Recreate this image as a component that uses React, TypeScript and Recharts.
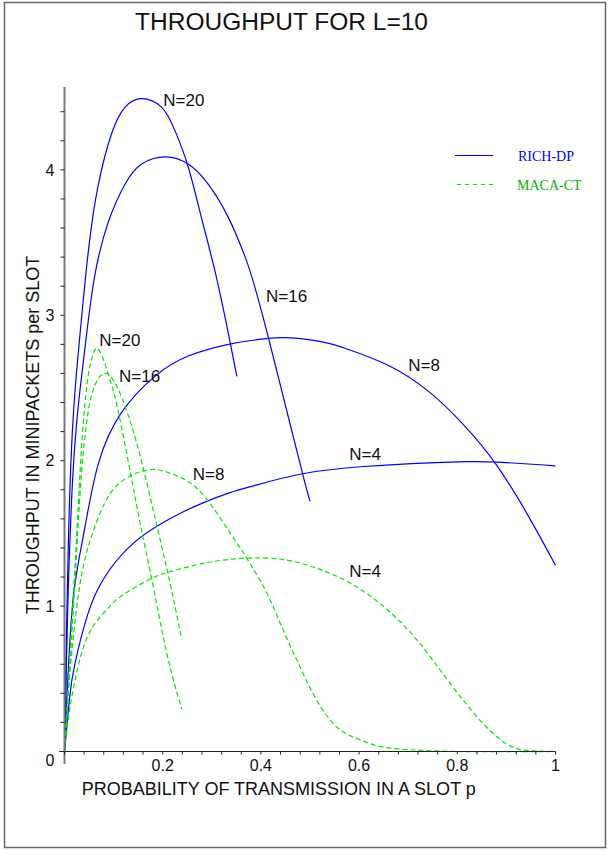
import { LineChart, Line, XAxis, YAxis, ReferenceDot, ReferenceLine, Legend } from 'recharts';

type Pt = [number, number];

// RICH-DP, solid blue: [p, throughput]
const richN20: Pt[] = [
  [0, 0], [0.003, 0.6], [0.006, 1.15], [0.01, 1.7], [0.016, 2.2], [0.023, 2.55], [0.0316, 2.87],
  [0.0485, 3.44], [0.069, 3.9], [0.096, 4.25], [0.123, 4.43], [0.157, 4.49], [0.198, 4.43],
  [0.225, 4.27], [0.252, 4.02], [0.279, 3.67], [0.306, 3.31], [0.334, 2.87], [0.351, 2.58],
];
const richN16: Pt[] = [
  [0, 0], [0.004, 0.62], [0.008, 1.15], [0.014, 1.7], [0.022, 2.15], [0.032, 2.5], [0.045, 2.87],
  [0.062, 3.28], [0.089, 3.64], [0.123, 3.9], [0.157, 4.04], [0.205, 4.09], [0.252, 4.04],
  [0.293, 3.9], [0.334, 3.67], [0.368, 3.4], [0.388, 3.19], [0.415, 2.85], [0.45, 2.38],
  [0.485, 1.91], [0.5, 1.72],
];
const richN8: Pt[] = [
  [0, 0], [0.005, 0.38], [0.01, 0.7], [0.02, 1.12], [0.042, 1.55], [0.069, 1.98], [0.116, 2.33],
  [0.184, 2.58], [0.252, 2.72], [0.334, 2.8], [0.388, 2.83], [0.446, 2.846], [0.52, 2.82],
  [0.574, 2.77], [0.663, 2.65], [0.744, 2.47], [0.812, 2.25], [0.88, 1.97], [0.948, 1.6], [1, 1.28],
];
const richN4: Pt[] = [
  [0, 0], [0.01, 0.36], [0.021, 0.6], [0.048, 0.95], [0.082, 1.2], [0.13, 1.4], [0.184, 1.54],
  [0.24, 1.645], [0.286, 1.715], [0.337, 1.78], [0.388, 1.83], [0.485, 1.91], [0.609, 1.96],
  [0.744, 1.985], [0.82, 1.993], [0.88, 1.99], [1, 1.965],
];

// MACA-CT, dashed green
const macaN20: Pt[] = [
  [0, 0], [0.006, 0.35], [0.012, 0.72], [0.018, 1.08], [0.025, 1.5], [0.0316, 1.92], [0.038, 2.25],
  [0.045, 2.5], [0.053, 2.67], [0.0635, 2.77], [0.072, 2.75], [0.082, 2.67], [0.096, 2.52],
  [0.11, 2.33], [0.137, 1.87], [0.157, 1.52], [0.178, 1.18], [0.198, 0.84], [0.218, 0.54], [0.239, 0.29],
];
const macaN16: Pt[] = [
  [0, 0], [0.008, 0.42], [0.018, 0.98], [0.026, 1.45], [0.035, 1.93], [0.045, 2.26], [0.055, 2.45],
  [0.07, 2.57], [0.086, 2.6], [0.1, 2.55], [0.116, 2.44], [0.143, 2.17], [0.171, 1.8], [0.198, 1.41],
  [0.218, 1.11], [0.239, 0.77],
];
const macaN8: Pt[] = [
  [0, 0], [0.008, 0.42], [0.016, 0.72], [0.028, 1.07], [0.04, 1.3], [0.055, 1.48], [0.082, 1.71],
  [0.11, 1.84], [0.137, 1.9], [0.16, 1.93], [0.184, 1.94], [0.21, 1.92], [0.245, 1.87], [0.286, 1.75],
  [0.334, 1.52], [0.371, 1.33], [0.412, 1.09], [0.446, 0.83], [0.48, 0.58], [0.514, 0.35],
  [0.554, 0.17], [0.595, 0.09], [0.649, 0.03], [0.717, 0.01], [0.8, 0], [1, 0],
];
const macaN4: Pt[] = [
  [0, 0], [0.006, 0.18], [0.0146, 0.37], [0.035, 0.68], [0.062, 0.88], [0.09, 0.99], [0.116, 1.07],
  [0.171, 1.18], [0.208, 1.23], [0.252, 1.27], [0.3, 1.305], [0.371, 1.33], [0.446, 1.32],
  [0.514, 1.26], [0.581, 1.16], [0.649, 1.0], [0.717, 0.77], [0.785, 0.47], [0.853, 0.19],
  [0.907, 0.04], [0.95, 0.005], [1, 0],
];
const macaTail: Pt[] = [[0.24, 0], [1, 0]];

// curve labels, anchored at the text's left baseline
const curveLabels = [
  { text: 'N=20', p: 0.2012, v: 4.441 },
  { text: 'N=16', p: 0.4104, v: 3.094 },
  { text: 'N=8', p: 0.7002, v: 2.619 },
  { text: 'N=4', p: 0.58, v: 2.005 },
  { text: 'N=20', p: 0.0709, v: 2.789 },
  { text: 'N=16', p: 0.111, v: 2.543 },
  { text: 'N=8', p: 0.2611, v: 1.867 },
  { text: 'N=4', p: 0.58, v: 1.198 },
];

const xTicks = Array.from({ length: 26 }, (_, i) => +(i * 0.04).toFixed(2));
const xLabelTicks = [0.2, 0.4, 0.6, 0.8, 1];
const yTicks = Array.from({ length: 23 }, (_, i) => +(i * 0.2).toFixed(1));
const yLabelTicks = [0, 1, 2, 3, 4];

const BLUE = '#0000ff';
const GREEN = '#00e600';
const SANS = '"Liberation Sans", Arial, sans-serif';
const SERIF = '"Liberation Serif", "Times New Roman", serif';

const series = [
  { key: 'rich20', pts: richN20, color: BLUE, dash: undefined },
  { key: 'rich16', pts: richN16, color: BLUE, dash: undefined },
  { key: 'rich8', pts: richN8, color: BLUE, dash: undefined },
  { key: 'rich4', pts: richN4, color: BLUE, dash: undefined },
  { key: 'maca20', pts: macaN20, color: GREEN, dash: '5 3' },
  { key: 'maca16', pts: macaN16, color: GREEN, dash: '5 3' },
  { key: 'maca8', pts: macaN8, color: GREEN, dash: '5 3' },
  { key: 'maca4', pts: macaN4, color: GREEN, dash: '5 3' },
  { key: 'macaTail', pts: macaTail, color: GREEN, dash: undefined },
];

function YTick({ x, y, payload }: any) {
  if (!yLabelTicks.includes(payload.value)) return <g />;
  const shift = payload.value === 0 ? 8.5 : 0;
  return (
    <text x={x} y={y + shift} dy="0.355em" textAnchor="end" fontSize={16} fontFamily={SANS} fill="#111">
      {payload.value}
    </text>
  );
}

function LegendBox() {
  return (
    <svg width={150} height={55}>
      <line x1={5} x2={43} y1={10.5} y2={10.5} stroke={BLUE} strokeWidth={1.2} />
      <text x={68} y={15.6} fontSize={14} fontFamily={SERIF} fill={BLUE}>RICH-DP</text>
      <line x1={7} x2={46} y1={39.5} y2={39.5} stroke={GREEN} strokeWidth={1.2} strokeDasharray="4 4" />
      <text x={67} y={44.6} fontSize={14} fontFamily={SERIF} fill="#00b000">MACA-CT</text>
    </svg>
  );
}

export default function App() {
  return (
    <div style={{ position: 'absolute', left: 0, top: 0, width: 611, height: 850, background: '#fff' }}>
      <LineChart width={611} height={850} margin={{ top: 87, right: 55.5, left: 24.5, bottom: 38.5 }}>
        <XAxis
          dataKey="p"
          type="number"
          domain={[0, 1]}
          ticks={xTicks}
          interval={0}
          height={60}
          tickSize={3}
          tickMargin={5.5}
          axisLine={{ stroke: '#222', strokeWidth: 1 }}
          tickLine={{ stroke: '#222' }}
          tick={{ fontSize: 16, fontFamily: SANS, fill: '#111' }}
          tickFormatter={(v: number) => (xLabelTicks.includes(v) ? String(v) : '')}
          label={{
            content: ({ viewBox }: any) => (
              <text x={viewBox.x + 17.2} y={viewBox.y + 43.5} fontSize={18} fontFamily={SANS} fill="#111">
                PROBABILITY OF TRANSMISSION IN A SLOT p
              </text>
            ),
          }}
        />
        <YAxis
          type="number"
          domain={[0, 4.57]}
          ticks={yTicks}
          interval={0}
          width={40}
          tickSize={4}
          tickMargin={6}
          axisLine={{ stroke: '#7a7a7a', strokeWidth: 2 }}
          tickLine={{ stroke: '#222' }}
          tick={<YTick />}
          label={{
            content: ({ viewBox }: any) => {
              const x = viewBox.x + viewBox.width - 25.5;
              const y = 435;
              return (
                <text x={x} y={y} transform={`rotate(-90 ${x} ${y})`} textAnchor="middle" fontSize={18} fontFamily={SANS} fill="#111">
                  THROUGHPUT IN MINIPACKETS per SLOT
                </text>
              );
            },
          }}
        />
        <ReferenceLine segment={[{ x: 0, y: 0 }, { x: 0, y: -0.086 }]} stroke="#7a7a7a" strokeWidth={2} ifOverflow="visible" />
        <ReferenceLine segment={[{ x: -0.011, y: 0 }, { x: 0, y: 0 }]} stroke="#222" ifOverflow="visible" />
        {series.map((s) => (
          <Line
            key={s.key}
            data={s.pts.map(([p, v]) => ({ p, v }))}
            dataKey="v"
            type="natural"
            stroke={s.color}
            strokeWidth={1.2}
            strokeDasharray={s.dash}
            dot={false}
            activeDot={false}
            isAnimationActive={false}
          />
        ))}
        {curveLabels.map((l, i) => (
          <ReferenceDot
            key={i}
            x={l.p}
            y={l.v}
            r={0}
            ifOverflow="visible"
            shape={(props: any) => (
              <text x={props.cx} y={props.cy} fontSize={17} fontFamily={SANS} fill="#111">
                {l.text}
              </text>
            )}
          />
        ))}
        <Legend
          layout="horizontal"
          verticalAlign="middle"
          align="center"
          wrapperStyle={{ position: 'absolute', left: 450, top: 145, width: 150, height: 55 }}
          content={() => <LegendBox />}
        />
      </LineChart>
      <svg width={611} height={850} style={{ position: 'absolute', left: 0, top: 0, pointerEvents: 'none' }}>
        <rect x={4.5} y={2.5} width={601} height={845} fill="none" stroke="#666" strokeWidth={1.5} />
        <text x={281.5} y={30} textAnchor="middle" fontSize={24.5} fontFamily={SANS} fill="#111">
          THROUGHPUT FOR L=10
        </text>
      </svg>
    </div>
  );
}
